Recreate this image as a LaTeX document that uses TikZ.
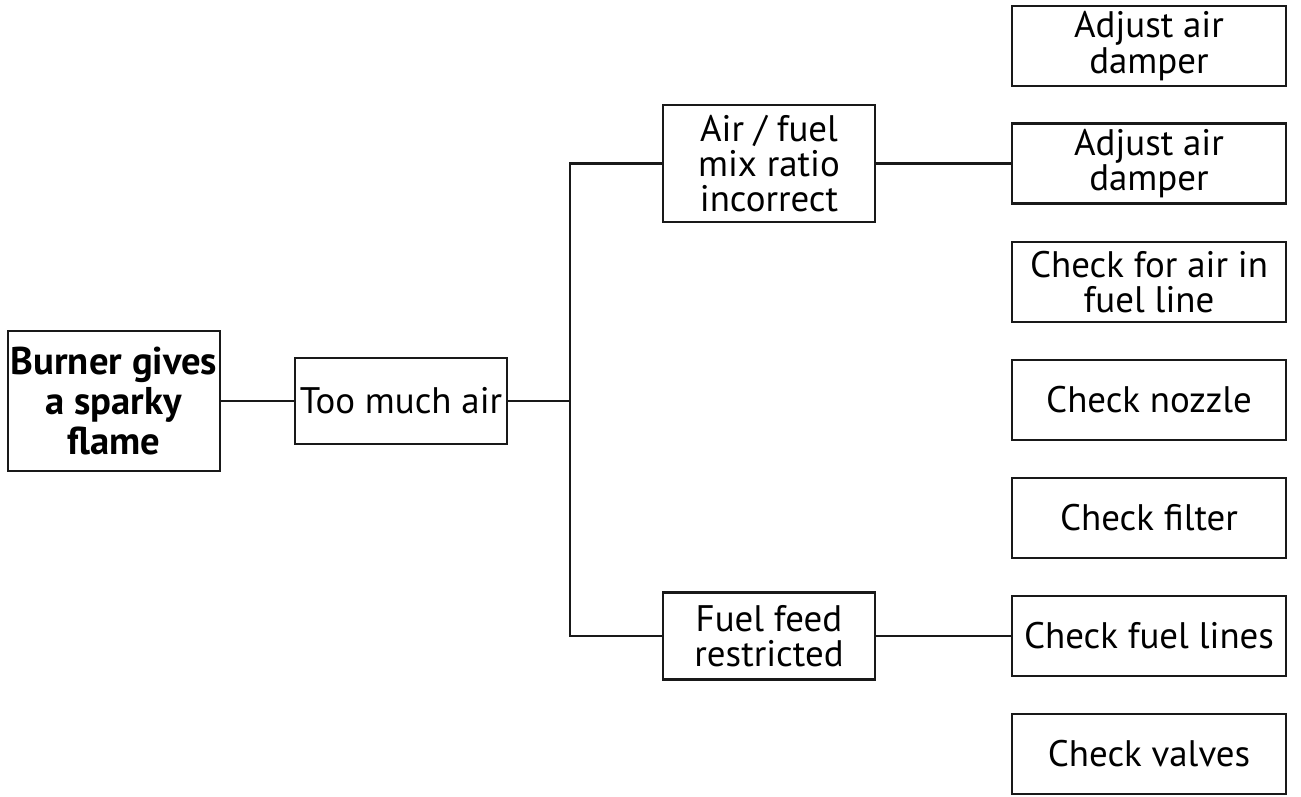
\documentclass[tikz,border=0pt]{standalone}
\usepackage{fontspec}
\setmainfont{PT Sans}

\begin{document}
\begin{tikzpicture}[
  box/.style  ={draw=black!90, line width=1.3pt, align=center, inner sep=1pt,
                font=\fontsize{21}{20}\selectfont},
  midbox/.style ={box, minimum width=4.24cm},
  fixbox/.style ={box, minimum width=5.48cm, minimum height=1.6cm},
  link/.style ={line width=1.2pt, black!90},
]
\useasboundingbox (0,0) rectangle (26.02,-15.92);

% ---------------- fault and first cause ----------------
\node[box, minimum width=4.24cm, minimum height=2.8cm, font=\fontsize{22}{22.5}\selectfont\bfseries]
  (fault) at (2.28,-8.02) {Burner gives\\a sparky\\flame};
\node[midbox, minimum height=1.72cm] (air) at (8.02,-8.02) {Too much air};

% ---------------- second level causes ----------------
\node[midbox, minimum height=2.34cm] (mix)  at (15.38,-3.27)  {Air / fuel\\mix ratio\\incorrect};
\node[midbox, minimum height=1.74cm] (feed) at (15.38,-12.72) {Fuel feed\\restricted};
\coordinate (spine) at (11.4,-8.02);

% ---------------- remedies ----------------
\node[fixbox] (damperA) at (22.98,-0.92)  {Adjust air\\damper};
\node[fixbox] (damperB) at (22.98,-3.27)  {Adjust air\\damper};
\node[fixbox] (airline) at (22.98,-5.64)  {Check for air in\\fuel line};
\node[fixbox] (nozzle)  at (22.98,-8.00)  {Check nozzle};
\node[fixbox] (filter)  at (22.98,-10.36) {Check filter};
\node[fixbox] (lines)   at (22.98,-12.72) {Check fuel lines};
\node[fixbox] (valves)  at (22.98,-15.08) {Check valves};

% ---------------- connectors ----------------
\draw[link] (fault.east) -- (air.west);
\draw[link] (air.east) -- (spine);
\draw[link] (mix.west) -| (spine) |- (feed.west);
\draw[link] (mix.east) -- (damperB.west);
\draw[link] (feed.east) -- (lines.west);

\end{tikzpicture}
\end{document}
